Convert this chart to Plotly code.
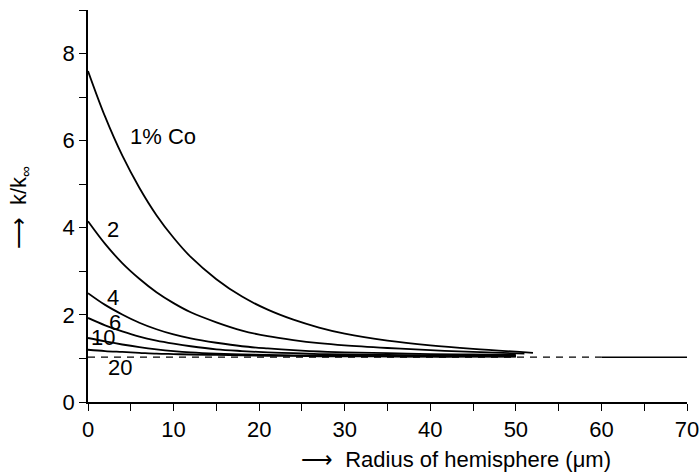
import plotly.graph_objects as go

# Radius of hemisphere (um)
x_grid = [0, 2, 4, 6, 8, 10, 12, 15, 18, 21, 24, 27, 30, 35, 40, 45, 52]
x_mid = [0, 2, 4, 6, 8, 10, 12, 15, 18, 21, 24, 27, 30, 35, 40, 45, 51]
x_short = [0, 2, 4, 6, 8, 10, 12, 15, 18, 21, 24, 27, 30, 35, 40, 45, 50]

# k/k_inf for different Co contents
co_1 = [7.6, 6.55, 5.66, 4.92, 4.29, 3.77, 3.33, 2.82, 2.42, 2.12, 1.89, 1.71, 1.57, 1.41, 1.30, 1.22, 1.13]
co_2 = [4.15, 3.63, 3.19, 2.83, 2.52, 2.27, 2.06, 1.83, 1.64, 1.51, 1.42, 1.35, 1.30, 1.24, 1.19, 1.15, 1.11]
co_4 = [2.5, 2.23, 2.01, 1.82, 1.67, 1.55, 1.46, 1.36, 1.28, 1.23, 1.19, 1.16, 1.14, 1.12, 1.10, 1.09, 1.08]
co_6 = [1.93, 1.76, 1.62, 1.50, 1.41, 1.34, 1.28, 1.21, 1.17, 1.14, 1.12, 1.10, 1.09, 1.08, 1.07, 1.07, 1.06]
co_10 = [1.47, 1.39, 1.32, 1.26, 1.21, 1.17, 1.14, 1.11, 1.09, 1.08, 1.07, 1.06, 1.06, 1.05, 1.05, 1.05, 1.05]
co_20 = [1.2, 1.17, 1.15, 1.13, 1.11, 1.10, 1.09, 1.08, 1.07, 1.06, 1.06, 1.05, 1.05, 1.05, 1.04, 1.04, 1.04]

asym_dashed_x = [0, 60]
asym_solid_x = [60, 70]
asym_y = 1.03

labels = ["1% Co", "2", "4", "6", "10", "20"]
label_x = [4.7, 2.9, 2.9, 3.15, 1.75, 3.7]
label_y = [6.1, 3.95, 2.41, 1.82, 1.49, 0.8]

x_title = "\u27f6  Radius of hemisphere (\u03bcm)"
y_title = "\u27f6  k/k<sub>\u221e</sub>"

FONT = "Liberation Sans, Arial, Helvetica, sans-serif"

fig = go.Figure()
series = [(x_grid, co_1), (x_mid, co_2), (x_short, co_4), (x_short, co_6), (x_short, co_10), (x_short, co_20)]
for xs, ys in series:
    fig.add_trace(go.Scatter(x=xs, y=ys, mode="lines",
                             line=dict(shape="spline", smoothing=1.0, color="black", width=1.8),
                             showlegend=False, hoverinfo="skip"))

fig.add_trace(go.Scatter(x=asym_dashed_x, y=[asym_y, asym_y], mode="lines",
                         line=dict(color="black", width=1.3, dash="7px,6px"), showlegend=False))
fig.add_trace(go.Scatter(x=asym_solid_x, y=[asym_y, asym_y], mode="lines",
                         line=dict(color="black", width=1.5), showlegend=False))

for t, lx, ly in zip(labels, label_x, label_y):
    fig.add_annotation(x=lx, y=ly, text=t, showarrow=False,
                       xanchor="left" if t == "1% Co" else "center",
                       font=dict(family=FONT, size=22, color="black"))

fig.add_annotation(x=0.615, y=-0.146, xref="paper", yref="paper", text=x_title, showarrow=False,
                   xanchor="center", yanchor="middle", font=dict(family=FONT, size=22, color="black"))
fig.add_annotation(x=-0.113, y=0.495, xref="paper", yref="paper", text=y_title, showarrow=False,
                   textangle=-90, xanchor="center", yanchor="middle",
                   font=dict(family=FONT, size=22, color="black"))

fig.update_layout(
    width=699, height=473,
    margin=dict(l=88, r=12, t=10, b=71, autoexpand=False),
    paper_bgcolor="white", plot_bgcolor="white",
    font=dict(family=FONT, size=22, color="black"),
    xaxis=dict(range=[0, 70], dtick=10, tick0=0, showline=True, linecolor="black", linewidth=1.6,
               ticks="outside", ticklen=7, tickwidth=1.4, tickcolor="black", showgrid=False, zeroline=False,
               minor=dict(dtick=5, ticks="outside", ticklen=7, tickwidth=1.4, tickcolor="black"),
               automargin=False, tickfont=dict(size=22), ticklabelstandoff=0, ticklabeloverflow="allow"),
    yaxis=dict(range=[0, 9], dtick=2, tick0=0, showline=True, linecolor="black", linewidth=1.6,
               ticks="outside", ticklen=7, tickwidth=1.4, tickcolor="black", showgrid=False, zeroline=False,
               minor=dict(dtick=1, ticks="outside", ticklen=7, tickwidth=1.4, tickcolor="black"),
               automargin=False, tickfont=dict(size=22), ticklabelstandoff=0, ticklabeloverflow="allow"),
)

fig.write_html("out.html", config={"displayModeBar": False},
               post_script="document.body.style.margin='0';document.body.style.padding='0';")
